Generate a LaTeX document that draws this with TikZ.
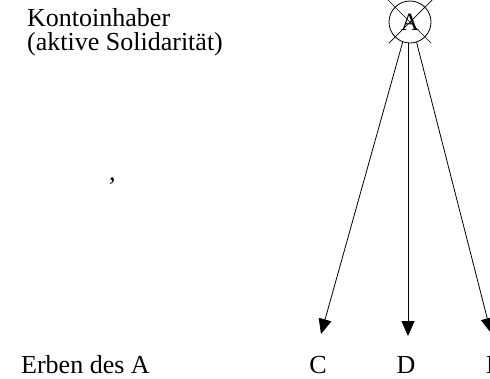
\documentclass[tikz,border=0pt]{standalone}
\usepackage{fontspec}
\setmainfont{Liberation Serif}
\usetikzlibrary{arrows.meta,calc}
\begin{document}
\begin{tikzpicture}[x=1pt,y=-1pt,
  lbl/.style={font=\fontsize{26}{30}\selectfont, inner sep=0pt, anchor=base west},
  lblc/.style={font=\fontsize{26}{30}\selectfont, inner sep=0pt, anchor=base},
  arr/.style={line width=0.8pt, -{Triangle[width=13pt,length=15pt]}},
  crossln/.style={line width=0.7pt},
  holder/.style={circle, draw, line width=0.8pt, minimum size=42pt, inner sep=0pt,
                 font=\fontsize{25}{28}\selectfont}]
\useasboundingbox (0,0) rectangle (490,378);
\node[lbl] (kh) at (27,26) {Kontoinhaber};
\node[lbl] (ak) at (27,50) {(aktive Solidarität)};
\node[lbl] (comma) at (109,180) {,};
\node[lbl] (erben) at (21,373) {Erben des A};
\node[lblc] (C) at (318,373) {C};
\node[lblc] (D) at (406,373) {D};
\node[lblc] (E) at (494,373) {E};
\node[holder] (A) at (410,22) {A};
\draw[crossln] ($(A.center)+(135:30)$) -- ($(A.center)+(-45:33)$);
\draw[crossln] ($(A.center)+(45:30)$) -- ($(A.center)+(-135:31)$);
\coordinate (tC) at (321,334);
\coordinate (tD) at (408,336);
\coordinate (tE) at (491,333);
\draw[arr] (A.-110) -- (tC);
\draw[arr] (A.south -| tD) -- (tD);
\draw[arr] (A.-72) -- (tE);
\end{tikzpicture}
\end{document}
